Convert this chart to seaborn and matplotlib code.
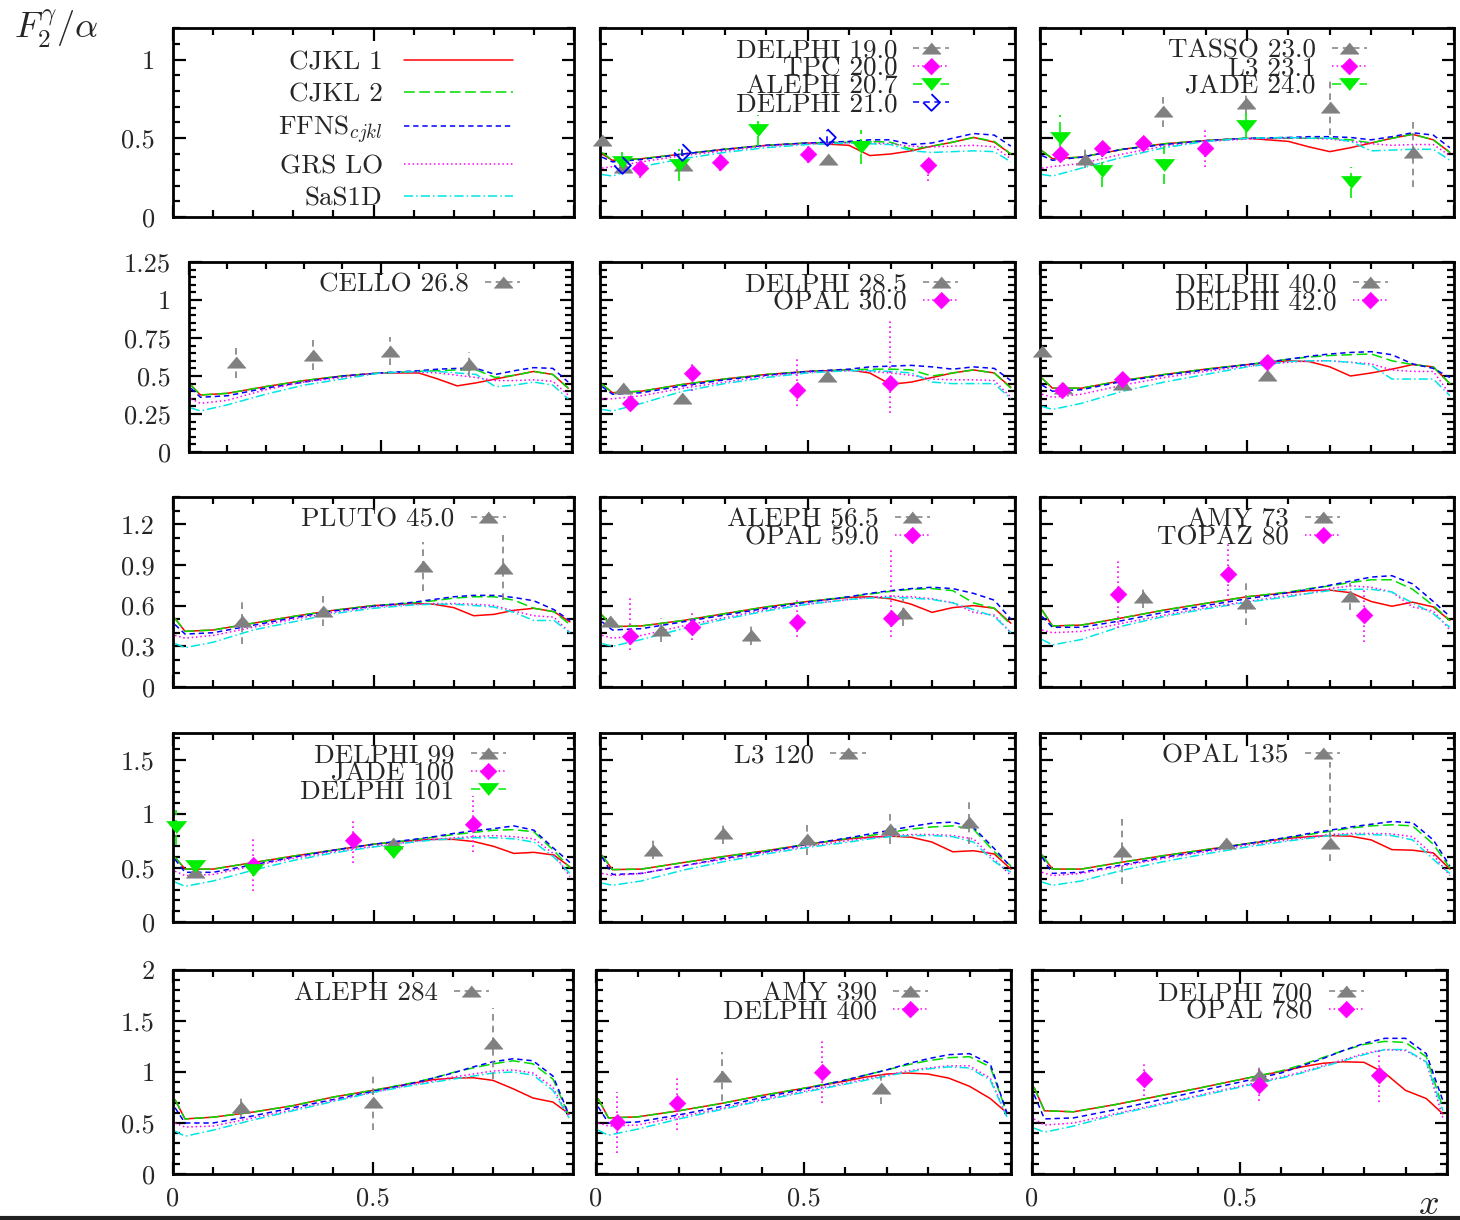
import matplotlib
matplotlib.use("Agg")
import matplotlib.pyplot as plt
from matplotlib.lines import Line2D
from matplotlib.ticker import MultipleLocator, FixedLocator, FuncFormatter
import seaborn as sns

# ---------------- data ----------------
XG = [0.005, 0.03, 0.1, 0.2, 0.3, 0.4, 0.5, 0.6, 0.65, 0.7, 0.75, 0.8, 0.85, 0.9, 0.95, 0.99]
MODELS = ["CJKL 1", "CJKL 2", r"FFNS$_{cjkl}$", "GRS LO", "SaS1D"]

# theory curves, one list per model (order of MODELS)
C12 = [[0.40, 0.36, 0.37, 0.40, 0.43, 0.455, 0.47, 0.455, 0.39, 0.40, 0.42, 0.45, 0.475, 0.505, 0.475, 0.40],
       [0.41, 0.36, 0.37, 0.40, 0.43, 0.455, 0.47, 0.475, 0.48, 0.475, 0.43, 0.45, 0.475, 0.505, 0.48, 0.40],
       [0.38, 0.35, 0.365, 0.40, 0.43, 0.455, 0.47, 0.48, 0.49, 0.49, 0.46, 0.47, 0.50, 0.53, 0.52, 0.45],
       [0.31, 0.32, 0.35, 0.39, 0.42, 0.45, 0.465, 0.47, 0.47, 0.465, 0.45, 0.445, 0.45, 0.455, 0.445, 0.37],
       [0.27, 0.26, 0.32, 0.37, 0.41, 0.44, 0.46, 0.47, 0.465, 0.46, 0.42, 0.41, 0.415, 0.42, 0.415, 0.35]]
C13 = [[0.42, 0.37, 0.38, 0.43, 0.465, 0.485, 0.50, 0.48, 0.445, 0.415, 0.44, 0.47, 0.50, 0.525, 0.49, 0.41],
       [0.42, 0.37, 0.38, 0.43, 0.465, 0.485, 0.50, 0.50, 0.50, 0.50, 0.49, 0.47, 0.50, 0.525, 0.49, 0.41],
       [0.39, 0.36, 0.38, 0.43, 0.46, 0.485, 0.50, 0.505, 0.51, 0.51, 0.505, 0.49, 0.51, 0.535, 0.52, 0.44],
       [0.31, 0.32, 0.34, 0.40, 0.45, 0.48, 0.495, 0.50, 0.50, 0.495, 0.48, 0.465, 0.455, 0.46, 0.46, 0.39],
       [0.27, 0.26, 0.31, 0.38, 0.44, 0.48, 0.50, 0.505, 0.50, 0.50, 0.48, 0.42, 0.425, 0.43, 0.43, 0.36]]
C21 = [[0.44, 0.375, 0.386, 0.43, 0.47, 0.50, 0.52, 0.52, 0.48, 0.435, 0.455, 0.48, 0.505, 0.53, 0.51, 0.42],
       [0.44, 0.375, 0.386, 0.43, 0.47, 0.50, 0.52, 0.53, 0.535, 0.54, 0.54, 0.49, 0.505, 0.53, 0.51, 0.42],
       [0.42, 0.36, 0.37, 0.42, 0.46, 0.50, 0.52, 0.535, 0.545, 0.55, 0.55, 0.51, 0.535, 0.555, 0.55, 0.46],
       [0.35, 0.32, 0.34, 0.41, 0.46, 0.49, 0.52, 0.525, 0.52, 0.505, 0.49, 0.47, 0.47, 0.475, 0.465, 0.375],
       [0.29, 0.27, 0.31, 0.38, 0.44, 0.48, 0.52, 0.53, 0.53, 0.52, 0.51, 0.43, 0.44, 0.46, 0.44, 0.35]]
C22 = [[0.445, 0.39, 0.40, 0.445, 0.48, 0.51, 0.53, 0.54, 0.52, 0.445, 0.46, 0.49, 0.52, 0.54, 0.52, 0.425],
       [0.445, 0.39, 0.40, 0.445, 0.48, 0.51, 0.53, 0.54, 0.545, 0.545, 0.54, 0.50, 0.52, 0.54, 0.52, 0.42],
       [0.43, 0.38, 0.39, 0.435, 0.475, 0.505, 0.53, 0.545, 0.56, 0.565, 0.57, 0.56, 0.545, 0.56, 0.55, 0.47],
       [0.35, 0.35, 0.37, 0.42, 0.46, 0.50, 0.525, 0.535, 0.53, 0.52, 0.505, 0.48, 0.475, 0.475, 0.47, 0.36],
       [0.28, 0.27, 0.32, 0.40, 0.45, 0.49, 0.52, 0.535, 0.535, 0.53, 0.52, 0.46, 0.45, 0.45, 0.45, 0.35]]
C23 = [[0.485, 0.42, 0.42, 0.47, 0.51, 0.545, 0.575, 0.60, 0.595, 0.56, 0.50, 0.52, 0.545, 0.575, 0.56, 0.45],
       [0.485, 0.42, 0.42, 0.47, 0.51, 0.545, 0.575, 0.61, 0.625, 0.635, 0.64, 0.645, 0.60, 0.575, 0.56, 0.45],
       [0.44, 0.40, 0.41, 0.465, 0.505, 0.54, 0.575, 0.61, 0.63, 0.645, 0.655, 0.66, 0.64, 0.58, 0.55, 0.49],
       [0.38, 0.36, 0.38, 0.44, 0.49, 0.53, 0.565, 0.59, 0.60, 0.60, 0.59, 0.58, 0.54, 0.53, 0.53, 0.38],
       [0.30, 0.28, 0.32, 0.40, 0.46, 0.51, 0.56, 0.595, 0.60, 0.60, 0.59, 0.57, 0.48, 0.48, 0.48, 0.37]]
C31 = [[0.505, 0.41, 0.42, 0.47, 0.52, 0.565, 0.60, 0.615, 0.61, 0.585, 0.525, 0.535, 0.565, 0.58, 0.555, 0.48],
       [0.505, 0.41, 0.42, 0.47, 0.52, 0.565, 0.60, 0.62, 0.635, 0.655, 0.665, 0.665, 0.64, 0.58, 0.555, 0.46],
       [0.46, 0.39, 0.40, 0.455, 0.51, 0.56, 0.595, 0.625, 0.645, 0.665, 0.675, 0.675, 0.66, 0.635, 0.57, 0.49],
       [0.38, 0.36, 0.38, 0.44, 0.50, 0.55, 0.59, 0.61, 0.615, 0.615, 0.61, 0.60, 0.56, 0.525, 0.515, 0.40],
       [0.32, 0.29, 0.33, 0.42, 0.48, 0.54, 0.58, 0.605, 0.61, 0.61, 0.60, 0.59, 0.55, 0.49, 0.49, 0.40]]
C32 = [[0.53, 0.445, 0.45, 0.49, 0.54, 0.59, 0.63, 0.66, 0.665, 0.65, 0.61, 0.55, 0.585, 0.60, 0.58, 0.47],
       [0.53, 0.445, 0.45, 0.49, 0.54, 0.59, 0.63, 0.665, 0.685, 0.705, 0.72, 0.725, 0.71, 0.62, 0.58, 0.46],
       [0.48, 0.42, 0.43, 0.48, 0.53, 0.58, 0.625, 0.665, 0.69, 0.71, 0.725, 0.735, 0.725, 0.69, 0.64, 0.50],
       [0.38, 0.36, 0.38, 0.45, 0.51, 0.57, 0.61, 0.645, 0.66, 0.67, 0.665, 0.65, 0.62, 0.55, 0.53, 0.40],
       [0.32, 0.30, 0.35, 0.43, 0.50, 0.56, 0.61, 0.645, 0.655, 0.66, 0.655, 0.645, 0.62, 0.57, 0.52, 0.40]]
C33 = [[0.567, 0.45, 0.456, 0.51, 0.567, 0.616, 0.665, 0.695, 0.71, 0.714, 0.695, 0.63, 0.595, 0.625, 0.59, 0.49],
       [0.567, 0.45, 0.456, 0.51, 0.567, 0.616, 0.665, 0.70, 0.725, 0.745, 0.77, 0.79, 0.79, 0.72, 0.60, 0.49],
       [0.52, 0.44, 0.44, 0.49, 0.55, 0.60, 0.65, 0.695, 0.72, 0.75, 0.78, 0.81, 0.82, 0.76, 0.63, 0.52],
       [0.42, 0.40, 0.41, 0.47, 0.53, 0.585, 0.63, 0.675, 0.69, 0.725, 0.745, 0.735, 0.70, 0.59, 0.56, 0.42],
       [0.35, 0.31, 0.35, 0.45, 0.52, 0.575, 0.625, 0.665, 0.69, 0.71, 0.72, 0.72, 0.70, 0.62, 0.54, 0.44]]
C41 = [[0.60, 0.49, 0.49, 0.55, 0.61, 0.665, 0.72, 0.755, 0.765, 0.765, 0.745, 0.70, 0.635, 0.645, 0.62, 0.51],
       [0.60, 0.49, 0.49, 0.55, 0.61, 0.665, 0.72, 0.76, 0.785, 0.81, 0.83, 0.85, 0.855, 0.835, 0.66, 0.50],
       [0.58, 0.46, 0.46, 0.53, 0.60, 0.665, 0.72, 0.765, 0.79, 0.82, 0.845, 0.865, 0.89, 0.85, 0.68, 0.55],
       [0.47, 0.43, 0.44, 0.52, 0.59, 0.65, 0.70, 0.745, 0.765, 0.78, 0.79, 0.80, 0.79, 0.77, 0.63, 0.42],
       [0.37, 0.33, 0.38, 0.48, 0.57, 0.64, 0.695, 0.74, 0.76, 0.77, 0.78, 0.78, 0.77, 0.74, 0.60, 0.45]]
C42 = [[0.617, 0.485, 0.49, 0.55, 0.607, 0.66, 0.72, 0.77, 0.785, 0.795, 0.785, 0.74, 0.65, 0.66, 0.63, 0.49],
       [0.617, 0.485, 0.49, 0.55, 0.607, 0.66, 0.72, 0.775, 0.80, 0.83, 0.86, 0.88, 0.89, 0.86, 0.65, 0.52],
       [0.60, 0.44, 0.45, 0.52, 0.59, 0.65, 0.72, 0.78, 0.815, 0.85, 0.885, 0.915, 0.925, 0.875, 0.68, 0.51],
       [0.45, 0.43, 0.45, 0.52, 0.58, 0.645, 0.70, 0.755, 0.78, 0.80, 0.81, 0.81, 0.80, 0.77, 0.58, 0.43],
       [0.36, 0.34, 0.38, 0.48, 0.56, 0.63, 0.69, 0.74, 0.77, 0.79, 0.80, 0.80, 0.79, 0.74, 0.56, 0.46]]
C43 = [[0.62, 0.49, 0.49, 0.555, 0.615, 0.67, 0.725, 0.775, 0.79, 0.80, 0.795, 0.76, 0.67, 0.665, 0.64, 0.49],
       [0.62, 0.49, 0.49, 0.555, 0.615, 0.67, 0.725, 0.78, 0.81, 0.84, 0.87, 0.89, 0.90, 0.89, 0.72, 0.50],
       [0.60, 0.45, 0.46, 0.53, 0.60, 0.66, 0.725, 0.785, 0.82, 0.85, 0.88, 0.905, 0.93, 0.92, 0.76, 0.52],
       [0.46, 0.43, 0.45, 0.52, 0.59, 0.65, 0.71, 0.76, 0.785, 0.81, 0.82, 0.82, 0.815, 0.79, 0.62, 0.43],
       [0.37, 0.34, 0.38, 0.48, 0.56, 0.63, 0.695, 0.75, 0.775, 0.80, 0.81, 0.81, 0.80, 0.76, 0.58, 0.45]]
C51 = [[0.73, 0.54, 0.557, 0.607, 0.67, 0.754, 0.82, 0.89, 0.925, 0.94, 0.944, 0.918, 0.836, 0.745, 0.705, 0.59],
       [0.73, 0.54, 0.557, 0.607, 0.67, 0.754, 0.82, 0.895, 0.94, 0.995, 1.04, 1.08, 1.11, 1.08, 0.93, 0.57],
       [0.65, 0.50, 0.50, 0.57, 0.65, 0.73, 0.81, 0.89, 0.94, 0.99, 1.05, 1.10, 1.13, 1.11, 0.96, 0.58],
       [0.50, 0.46, 0.47, 0.55, 0.63, 0.72, 0.80, 0.88, 0.91, 0.95, 0.98, 1.01, 1.02, 0.99, 0.85, 0.55],
       [0.42, 0.37, 0.43, 0.53, 0.62, 0.71, 0.80, 0.87, 0.90, 0.93, 0.96, 0.99, 1.00, 0.97, 0.82, 0.55]]
C52 = [[0.74, 0.55, 0.56, 0.62, 0.69, 0.77, 0.84, 0.91, 0.95, 0.98, 0.99, 0.98, 0.94, 0.86, 0.74, 0.60],
       [0.74, 0.55, 0.56, 0.62, 0.69, 0.77, 0.84, 0.92, 0.97, 1.02, 1.07, 1.11, 1.14, 1.15, 1.05, 0.60],
       [0.66, 0.50, 0.51, 0.58, 0.66, 0.75, 0.83, 0.92, 0.97, 1.02, 1.08, 1.13, 1.17, 1.18, 1.08, 0.60],
       [0.50, 0.47, 0.48, 0.56, 0.64, 0.73, 0.81, 0.89, 0.93, 0.97, 1.01, 1.04, 1.06, 1.06, 0.94, 0.56],
       [0.43, 0.38, 0.44, 0.54, 0.63, 0.72, 0.80, 0.88, 0.92, 0.96, 1.00, 1.03, 1.05, 1.04, 0.92, 0.56]]
C53 = [[0.85, 0.62, 0.61, 0.68, 0.76, 0.84, 0.925, 1.005, 1.05, 1.085, 1.10, 1.095, 0.99, 0.82, 0.74, 0.59],
       [0.85, 0.62, 0.61, 0.68, 0.76, 0.84, 0.925, 1.01, 1.07, 1.14, 1.21, 1.27, 1.30, 1.29, 1.15, 0.65],
       [0.78, 0.54, 0.55, 0.63, 0.72, 0.81, 0.90, 0.99, 1.06, 1.13, 1.21, 1.28, 1.33, 1.33, 1.18, 0.72],
       [0.54, 0.48, 0.50, 0.59, 0.68, 0.77, 0.86, 0.95, 1.00, 1.06, 1.12, 1.18, 1.22, 1.21, 1.10, 0.55],
       [0.45, 0.41, 0.47, 0.58, 0.67, 0.76, 0.85, 0.94, 0.99, 1.05, 1.11, 1.17, 1.22, 1.22, 1.10, 0.62]]

# measurements: labels, x, F2/alpha, errors (number = symmetric, pair = (down, up))
S12 = ["DELPHI 19.0", "TPC 20.0", "ALEPH 20.7", "DELPHI 21.0"]
X12 = [[0.006, 0.056, 0.20, 0.55], [0.096, 0.29, 0.50, 0.79], [0.052, 0.19, 0.38, 0.63], [0.052, 0.197, 0.548]]
Y12 = [[0.49, 0.32, 0.33, 0.37], [0.31, 0.35, 0.40, 0.33], [0.35, 0.33, 0.55, 0.445], [0.33, 0.41, 0.51]]
E12 = [[0.03, 0.02, 0.02, 0.03], [0.06, 0.06, 0.06, (0.1, 0.05)], [0.065, 0.1, 0.1, 0.11], [0.02, 0.02, 0.04]]

S13 = ["TASSO 23.0", "L3 23.1", "JADE 24.0"]
X13 = [[0.108, 0.297, 0.498, 0.70, 0.90], [0.048, 0.149, 0.249, 0.398], [0.048, 0.149, 0.30, 0.498, 0.75]]
Y13 = [[0.37, 0.67, 0.725, 0.70, 0.41], [0.40, 0.44, 0.47, 0.435], [0.50, 0.29, 0.33, 0.58, 0.22]]
E13 = [[0.06, 0.1, 0.07, 0.18, 0.22], [0.04, 0.04, 0.04, 0.12], [0.15, 0.1, 0.12, 0.08, 0.1]]

S21 = ["CELLO 26.8"]
X21 = [[0.124, 0.325, 0.525, 0.732]]
Y21 = [[0.59, 0.64, 0.665, 0.58]]
E21 = [[0.1, 0.1, 0.09, 0.08]]

S22 = ["DELPHI 28.5", "OPAL 30.0"]
X22 = [[0.056, 0.197, 0.548], [0.072, 0.221, 0.474, 0.699]]
Y22 = [[0.42, 0.357, 0.50], [0.32, 0.52, 0.41, 0.456]]
E22 = [[0.02, 0.02, 0.03], [0.03, (0.12, 0.08), (0.11, 0.22), (0.2, 0.41)]]

S23 = ["DELPHI 40.0", "DELPHI 42.0"]
X23 = [[0.006, 0.056, 0.197, 0.548], [0.052, 0.197, 0.548]]
Y23 = [[0.665, 0.42, 0.45, 0.505], [0.41, 0.48, 0.59]]
E23 = [[0.02, 0.02, 0.02, 0.02], [0.02, 0.02, 0.02]]

S31 = ["PLUTO 45.0"]
X31 = [[0.172, 0.375, 0.624, 0.823]]
Y31 = [[0.486, 0.56, 0.89, 0.88]]
E31 = [[0.17, 0.11, 0.18, 0.24]]

S32 = ["ALEPH 56.5", "OPAL 59.0"]
X32 = [[0.024, 0.147, 0.364, 0.729], [0.072, 0.221, 0.474, 0.70]]
Y32 = [[0.49, 0.42, 0.38, 0.547], [0.375, 0.444, 0.48, 0.51]]
E32 = [[0.03, 0.09, 0.07, 0.1], [(0.1, 0.28), 0.1, (0.11, 0.185), (0.14, 0.5)]]

S33 = ["AMY 73", "TOPAZ 80"]
X33 = [[0.249, 0.498, 0.749], [0.189, 0.454, 0.783]]
Y33 = [[0.665, 0.616, 0.67], [0.685, 0.83, 0.53]]
E33 = [[0.08, 0.16, 0.1], [0.25, 0.23, 0.2]]

S41 = ["DELPHI 99", "JADE 100", "DELPHI 101"]
X41 = [[0.056, 0.549], [0.199, 0.45, 0.749], [0.008, 0.056, 0.199, 0.549]]
Y41 = [[0.463, 0.733], [0.53, 0.755, 0.91], [0.877, 0.52, 0.48, 0.65]]
E41 = [[0.03, 0.03], [0.24, 0.21, 0.26], [0.16, 0.03, 0.04, 0.03]]

S42 = ["L3 120"]
X42 = [[0.127, 0.297, 0.498, 0.699, 0.89]]
Y42 = [[0.67, 0.825, 0.764, 0.862, 0.923]]
E42 = [[0.09, 0.1, 0.14, 0.14, 0.2]]

S43 = ["OPAL 135"]
X43 = [[0.198, 0.449, 0.70]]
Y43 = [[0.653, 0.727, 0.736]]
E43 = [[0.3, 0.04, (0.17, 0.75)]]

S51 = ["ALEPH 284"]
X51 = [[0.17, 0.50, 0.80]]
Y51 = [[0.656, 0.705, 1.28]]
E51 = [[0.1, 0.27, 0.35]]

S52 = ["AMY 390", "DELPHI 400"]
X52 = [[0.304, 0.687], [0.05, 0.195, 0.545]]
Y52 = [[0.956, 0.84], [0.507, 0.70, 1.0]]
E52 = [[0.24, 0.15], [0.3, 0.27, 0.3]]

S53 = ["DELPHI 700", "OPAL 780"]
X53 = [[0.548], [0.27, 0.546, 0.837]]
Y53 = [[0.967], [0.934, 0.875, 0.974]]
E53 = [[0.1], [0.17, 0.16, (0.27, 0.25)]]

Y_TOP = [1.2, 1.25, 1.4, 1.75, 2.0]
Y_MAJOR = [0.5, 0.25, 0.3, 0.5, 0.5]
Y_MINOR = [0.1, 0.05, 0.1, 0.1, 0.1]

# ---------------- styling / layout ----------------
W, H = 1460, 1220
ROWS = [(28, 217), (262, 452), (497, 687), (733, 922), (970, 1174)]
COLS = [[(173, 574), (600, 1015), (1040, 1454)],
        [(189, 572), (600, 1015), (1040, 1454)],
        [(173, 574), (600, 1015), (1040, 1454)],
        [(173, 574), (600, 1015), (1040, 1454)],
        [(173, 573), (596, 1011), (1032, 1447)]]

CURVE_COLORS = ["#ff0000", "#00dd00", "#0000ff", "#ff00ff", "#00e5e5"]
CURVE_STYLES = ["-", (0, (7, 3)), (0, (3.5, 2.5)), (0, (1, 1.8)), (0, (6, 2, 1, 2))]

TRI_UP = [(-1, -0.6), (1, -0.6), (0, 0.6)]
TRI_DN = [(-1, 0.6), (1, 0.6), (0, -0.6)]
DIAM = [(0, 1), (1, 0), (0, -1), (-1, 0)]
SET_COLORS = ["#808080", "#ff00ff", "#00ee00", "#0000ff"]
SET_MARKERS = [TRI_UP, DIAM, TRI_DN, DIAM]
SET_SIZES = [13.5, 12, 14.5, 12]
SET_ERRSTYLE = [(0, (4, 3)), (0, (1, 2)), (0, (6, 3)), (0, (4, 3))]

PANELS = [
    (0, 1, C12, S12, X12, Y12, E12, 0.84),
    (0, 2, C13, S13, X13, Y13, E13, 0.79),
    (1, 0, C21, S21, X21, Y21, E21, 0.865),
    (1, 1, C22, S22, X22, Y22, E22, 0.863),
    (1, 2, C23, S23, X23, Y23, E23, 0.84),
    (2, 0, C31, S31, X31, Y31, E31, 0.83),
    (2, 1, C32, S32, X32, Y32, E32, 0.795),
    (2, 2, C33, S33, X33, Y33, E33, 0.725),
    (3, 0, C41, S41, X41, Y41, E41, 0.83),
    (3, 1, C42, S42, X42, Y42, E42, 0.64),
    (3, 2, C43, S43, X43, Y43, E43, 0.725),
    (4, 0, C51, S51, X51, Y51, E51, 0.79),
    (4, 1, C52, S52, X52, Y52, E52, 0.80),
    (4, 2, C53, S53, X53, Y53, E53, 0.80),
]

sns.set_style("ticks")
plt.rcParams["font.family"] = ["cmr10", "DejaVu Serif"]
plt.rcParams["mathtext.fontset"] = "cm"
plt.rcParams["axes.formatter.use_mathtext"] = True
plt.rcParams["axes.unicode_minus"] = False

fig = plt.figure(figsize=(W / 100, H / 100), dpi=100)


def make_axes(r, c):
    (t, b), (l, rr) = ROWS[r], COLS[r][c]
    ax = fig.add_axes([l / W, 1 - b / H, (rr - l) / W, (b - t) / H])
    ax.set_xlim(0, 1)
    ax.set_ylim(0, Y_TOP[r])
    ax.xaxis.set_major_locator(FixedLocator([0, 0.5, 1]))
    ax.xaxis.set_minor_locator(MultipleLocator(0.1))
    ax.yaxis.set_major_locator(MultipleLocator(Y_MAJOR[r]))
    ax.yaxis.set_minor_locator(MultipleLocator(Y_MINOR[r]))
    ax.xaxis.set_major_formatter(FuncFormatter(lambda v, p: "" if v > 0.9 else f"{v:g}"))
    ax.yaxis.set_major_formatter(FuncFormatter(lambda v, p: f"{v:g}"))
    ax.tick_params(which="both", direction="in", top=True, right=True, width=1.6,
                   labelsize=19, labelbottom=(r == 4), labelleft=(c == 0), color="black")
    ax.tick_params(axis="y", pad=13)
    ax.tick_params(axis="x", pad=9)
    ax.tick_params(which="major", length=9)
    ax.tick_params(which="minor", length=5)
    for s in ax.spines.values():
        s.set_linewidth(2)
        s.set_color("black")
    return ax


def split_err(errs):
    lo = [e[0] if isinstance(e, tuple) else e for e in errs]
    hi = [e[1] if isinstance(e, tuple) else e for e in errs]
    return [lo, hi]


# legend-only panel
ax0 = make_axes(0, 0)
handles = [Line2D([], [], color=CURVE_COLORS[i], ls=CURVE_STYLES[i], lw=1.1) for i in range(5)]
ax0.legend(handles, MODELS, loc="upper right", bbox_to_anchor=(0.847, 0.88), frameon=False,
           markerfirst=False, fontsize=19.5, handlelength=4.0, handletextpad=0.8,
           labelspacing=0.29, borderpad=0, borderaxespad=0)

for r, c, curves, sets, xs, ys, es, lx in PANELS:
    ax = make_axes(r, c)
    for i, vals in enumerate(curves):
        sns.lineplot(x=XG, y=vals, ax=ax, color=CURVE_COLORS[i], linestyle=CURVE_STYLES[i],
                     linewidth=1.1, estimator=None, sort=False, legend=False, zorder=2)
    handles = []
    for k, name in enumerate(sets):
        col = SET_COLORS[k]
        eb = ax.errorbar(xs[k], ys[k], yerr=split_err(es[k]), fmt="none", ecolor=col,
                         elinewidth=1.2, capsize=0, zorder=3)
        eb[2][0].set_linestyle(SET_ERRSTYLE[k])
        eb[2][0].set_clip_on(False)
        if k == 3:
            ax.plot(xs[k], ys[k], ls="none", marker=SET_MARKERS[k], ms=SET_SIZES[k],
                    mfc="none", mec=col, mew=1.3, zorder=4, clip_on=False)
        else:
            sns.scatterplot(x=xs[k], y=ys[k], ax=ax, marker=SET_MARKERS[k], s=SET_SIZES[k] ** 2,
                            color=col, edgecolor=col, linewidth=0.5, zorder=4, clip_on=False,
                            legend=False)
        handles.append(Line2D([], [], color=col, ls=SET_ERRSTYLE[k], lw=1.1, marker=SET_MARKERS[k],
                              ms=SET_SIZES[k], mfc="none" if k == 3 else col, mec=col,
                              mew=1.3 if k == 3 else 0.5))
    ax.legend(handles, sets, loc="upper right", bbox_to_anchor=(lx, 0.945), frameon=False,
              markerfirst=False, fontsize=19.5, handlelength=1.3, handletextpad=0.6,
              labelspacing=-0.22, borderpad=0, borderaxespad=0)

fig.text(14 / W, 1 - 8 / H, r"$F_2^{\gamma}/\alpha$", fontsize=26, ha="left", va="top")
fig.text(1428 / W, 1 - 1205 / H, r"$x$", fontsize=26, ha="center", va="center")
fig.add_artist(Line2D([0, 1], [1 - 1217.5 / H] * 2, transform=fig.transFigure,
                      color="#202020", lw=3))

fig.savefig("out.png", dpi=100)
